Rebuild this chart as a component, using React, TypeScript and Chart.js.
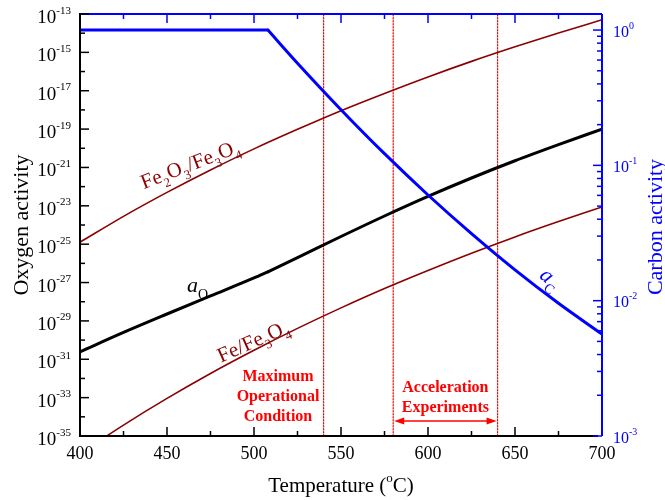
import React, { useEffect, useRef } from "react";
import { Chart, registerables } from "chart.js";

Chart.register(...registerables);

// ---- data ----
const temps = [400, 425, 450, 475, 500, 525, 550, 575, 600, 625, 650, 675, 700];
const fe2o3Fe3o4 = [1.26e-25, 2.82e-24, 5.01e-23, 7.41e-22, 9.33e-21, 9.77e-20, 9.12e-19, 7.24e-18, 5.25e-17, 3.39e-16, 1.95e-15, 1.02e-14, 5.01e-14];
const feFe3o4 = [1.2e-36, 3.72e-35, 9.12e-34, 1.82e-32, 2.95e-31, 4.07e-30, 4.79e-29, 4.9e-28, 4.27e-27, 3.39e-26, 2.4e-25, 1.51e-24, 8.71e-24];
// a_O has a kink at 508 °C: two branches
const aOTempsLow = [400, 425, 450, 475, 500, 508];
const aOValuesLow = [2.45e-31, 2.51e-30, 2.29e-29, 2.0e-28, 1.74e-27, 3.63e-27];
const aOTempsHigh = [508, 525, 550, 575, 600, 625, 650, 675, 700];
const aOValuesHigh = [3.63e-27, 2.0e-26, 2.51e-25, 2.95e-24, 3.09e-23, 2.82e-22, 2.24e-21, 1.55e-20, 1.0e-19];
// a_C: flat at 1 up to 508 °C, then falling
const aCTempsLow = [400, 450, 508];
const aCValuesLow = [1, 1, 1];
const aCTempsHigh = [508, 525, 550, 575, 600, 625, 650, 675, 700];
const aCValuesHigh = [1, 0.569, 0.258, 0.122, 0.0604, 0.0313, 0.0169, 0.00957, 0.00566];
const markerTemps = [540, 580, 640];
const accelRange = [580, 640];
const xTicks = [400, 450, 500, 550, 600, 650, 700];
const leftExponents = [-35, -33, -31, -29, -27, -25, -23, -21, -19, -17, -15, -13];
const rightExponents = [-3, -2, -1, 0];

const FONT = '"Liberation Serif", "Times New Roman", serif';
const WINE = "#8B0000";
const BLUE = "#0000FF";
const RED = "#FF0000";

type Part = { t: string; s?: "sub" | "sup"; i?: boolean };

function drawRich(
  ctx: CanvasRenderingContext2D,
  parts: Part[],
  x: number,
  y: number,
  size: number,
  color: string,
  opts: { angle?: number; align?: "left" | "center" | "right"; bold?: boolean; vcenter?: boolean; subScale?: number } = {}
) {
  const { angle = 0, align = "left", bold = false, vcenter = false, subScale = 0.62 } = opts;
  ctx.save();
  ctx.translate(x, y);
  ctx.rotate((angle * Math.PI) / 180);
  ctx.fillStyle = color;
  ctx.textBaseline = "alphabetic";
  ctx.textAlign = "left";
  const fontFor = (p: Part) =>
    `${p.i ? "italic " : ""}${bold ? "bold " : ""}${p.s ? Math.round(size * subScale) : size}px ${FONT}`;
  let w = 0;
  for (const p of parts) {
    ctx.font = fontFor(p);
    w += ctx.measureText(p.t).width;
  }
  let cx = align === "left" ? 0 : align === "center" ? -w / 2 : -w;
  const base = vcenter ? size * 0.33 : 0;
  for (const p of parts) {
    ctx.font = fontFor(p);
    const dy = p.s === "sub" ? size * 0.3 : p.s === "sup" ? -size * 0.5 : 0;
    ctx.fillText(p.t, cx, base + dy);
    cx += ctx.measureText(p.t).width;
  }
  ctx.restore();
}

const decorPlugin = {
  id: "decor",
  afterDatasetsDraw(chart: any) {
    const ctx: CanvasRenderingContext2D = chart.ctx;
    const { left, right, top, bottom } = chart.chartArea;
    const xs = chart.scales.x;
    const ys = chart.scales.y;
    const y2 = chart.scales.y2;
    ctx.save();

    // axis lines
    ctx.lineWidth = 2;
    ctx.strokeStyle = BLUE;
    ctx.beginPath();
    ctx.moveTo(left, top);
    ctx.lineTo(right, top);
    ctx.moveTo(right, top);
    ctx.lineTo(right, bottom);
    ctx.stroke();
    ctx.strokeStyle = "#000";
    ctx.beginPath();
    ctx.moveTo(left, top - 1);
    ctx.lineTo(left, bottom);
    ctx.lineTo(right - 4, bottom);
    ctx.stroke();

    // x ticks (bottom black, top blue)
    ctx.lineWidth = 1.5;
    for (let t = 400; t <= 700; t += 25) {
      const px = xs.getPixelForValue(t);
      const major = t % 50 === 0;
      const len = major ? 9 : 5;
      if (t === 400 || t === 700) continue;
      ctx.strokeStyle = "#000";
      ctx.beginPath();
      ctx.moveTo(px, bottom);
      ctx.lineTo(px, bottom - len);
      ctx.stroke();
      ctx.strokeStyle = BLUE;
      ctx.beginPath();
      ctx.moveTo(px, top);
      ctx.lineTo(px, top + len);
      ctx.stroke();
    }
    // left ticks
    ctx.strokeStyle = "#000";
    for (let e = -35; e <= -13; e++) {
      const py = ys.getPixelForValue(Math.pow(10, e));
      const len = leftExponents.includes(e) ? 9 : 5;
      ctx.beginPath();
      ctx.moveTo(left, py);
      ctx.lineTo(left + len, py);
      ctx.stroke();
    }
    // right ticks
    ctx.strokeStyle = BLUE;
    for (let e = -3; e <= 0; e++) {
      for (let k = 1; k <= 9; k++) {
        const v = k * Math.pow(10, e);
        if (v > y2.max) continue;
        const py = y2.getPixelForValue(v);
        const len = k === 1 ? 9 : 5;
        ctx.beginPath();
        ctx.moveTo(right, py);
        ctx.lineTo(right - len, py);
        ctx.stroke();
      }
    }

    // tick labels
    ctx.fillStyle = "#000";
    ctx.font = `18px ${FONT}`;
    ctx.textAlign = "center";
    ctx.textBaseline = "alphabetic";
    for (const t of xTicks) {
      ctx.fillText(String(t), xs.getPixelForValue(t), bottom + 23);
    }
    for (const e of leftExponents) {
      const py = ys.getPixelForValue(Math.pow(10, e));
      drawRich(ctx, [{ t: "10" }, { t: String(e), s: "sup" }], 71, py + 9, 19, "#000", { align: "right", subScale: 0.58 });
    }
    for (const e of rightExponents) {
      const py = y2.getPixelForValue(Math.pow(10, e));
      drawRich(ctx, [{ t: "10" }, { t: String(e), s: "sup" }], 613, py + 6.5, 16, BLUE, { align: "left", subScale: 0.6 });
    }

    // axis titles
    drawRich(ctx, [{ t: "Temperature (" }, { t: "o", s: "sup" }, { t: "C)" }], (left + right) / 2, 492, 21, "#000", { align: "center", subScale: 0.6 });
    drawRich(ctx, [{ t: "Oxygen activity" }], 28, (top + bottom) / 2, 22, "#000", { align: "center", angle: -90 });
    drawRich(ctx, [{ t: "Carbon activity" }], 662, (top + bottom) / 2 + 2, 22, BLUE, { align: "center", angle: -90 });

    // curve labels
    drawRich(ctx, [{ t: "Fe" }, { t: "2", s: "sub" }, { t: "O" }, { t: "3", s: "sub" }, { t: "/Fe" }, { t: "3", s: "sub" }, { t: "O" }, { t: "4", s: "sub" }], 190, 164, 21, WINE, { align: "center", angle: -21, vcenter: true });
    drawRich(ctx, [{ t: "Fe/Fe" }, { t: "3", s: "sub" }, { t: "O" }, { t: "4", s: "sub" }], 253, 341, 21, WINE, { align: "center", angle: -24, vcenter: true });
    drawRich(ctx, [{ t: "a", i: true }, { t: "O", s: "sub" }], 187, 292, 22, "#000", { align: "left" });
    drawRich(ctx, [{ t: "a", i: true }, { t: "C", s: "sub" }], 551, 278, 22, BLUE, { align: "center", angle: 40, vcenter: true });

    // annotations
    const midMax = 278;
    ctx.fillStyle = RED;
    ctx.font = `bold 16px ${FONT}`;
    ctx.textAlign = "center";
    ctx.fillText("Maximum", midMax, 381);
    ctx.fillText("Operational", midMax, 401);
    ctx.fillText("Condition", midMax, 421);
    const ax1 = xs.getPixelForValue(accelRange[0]);
    const ax2 = xs.getPixelForValue(accelRange[1]);
    const amid = (ax1 + ax2) / 2;
    ctx.fillText("Acceleration", amid, 392);
    ctx.fillText("Experiments", amid, 412);
    const ay = 421;
    ctx.strokeStyle = RED;
    ctx.lineWidth = 1.5;
    ctx.beginPath();
    ctx.moveTo(ax1 + 6, ay);
    ctx.lineTo(ax2 - 6, ay);
    ctx.stroke();
    ctx.beginPath();
    ctx.moveTo(ax1 + 1, ay);
    ctx.lineTo(ax1 + 11, ay - 3.5);
    ctx.lineTo(ax1 + 11, ay + 3.5);
    ctx.closePath();
    ctx.moveTo(ax2 - 1, ay);
    ctx.lineTo(ax2 - 11, ay - 3.5);
    ctx.lineTo(ax2 - 11, ay + 3.5);
    ctx.closePath();
    ctx.fill();

    ctx.restore();
  },
};

const pts = (xs: number[], ys: number[]) => xs.map((x, i) => ({ x, y: ys[i] }));

export default function App() {
  const ref = useRef<HTMLCanvasElement | null>(null);
  useEffect(() => {
    if (!ref.current) return;
    const markerSets = markerTemps.map((t) => ({
      data: [
        { x: t, y: 1e-35 },
        { x: t, y: 1e-13 },
      ],
      yAxisID: "y",
      borderColor: RED,
      borderWidth: 1.2,
      borderDash: [1.5, 1.5],
      tension: 0,
      order: 10,
    }));
    const smooth = { cubicInterpolationMode: "monotone" };
    const chart = new Chart(ref.current, {
      type: "line",
      data: {
        datasets: [
          { data: pts(temps, fe2o3Fe3o4), yAxisID: "y", borderColor: WINE, borderWidth: 1.6, order: 3, ...smooth },
          { data: pts(temps, feFe3o4), yAxisID: "y", borderColor: WINE, borderWidth: 1.6, order: 3, ...smooth },
          { data: pts(aOTempsLow, aOValuesLow), yAxisID: "y", borderColor: "#000", borderWidth: 3, order: 2, ...smooth },
          { data: pts(aOTempsHigh, aOValuesHigh), yAxisID: "y", borderColor: "#000", borderWidth: 3, order: 2, ...smooth },
          { data: pts(aCTempsLow, aCValuesLow), yAxisID: "y2", borderColor: BLUE, borderWidth: 3, order: 1, tension: 0 },
          { data: pts(aCTempsHigh, aCValuesHigh), yAxisID: "y2", borderColor: BLUE, borderWidth: 3, order: 1, ...smooth },
          ...markerSets,
        ] as any,
      },
      options: {
        animation: false,
        responsive: false,
        devicePixelRatio: 1,
        layout: { padding: { left: 80, right: 63, top: 14, bottom: 64 } },
        plugins: { legend: { display: false }, tooltip: { enabled: false } },
        elements: { point: { radius: 0 }, line: { borderCapStyle: "round", borderJoinStyle: "round" } },
        scales: {
          x: { type: "linear", min: 400, max: 700, display: false },
          y: { type: "logarithmic", min: 1e-35, max: 1e-13, display: false },
          y2: { type: "logarithmic", min: 1e-3, max: 1.314, display: false, position: "right" },
        },
      },
      plugins: [decorPlugin],
    });
    return () => chart.destroy();
  }, []);
  return (
    <div style={{ position: "absolute", left: 0, top: 0, width: 665, height: 500, background: "#fff" }}>
      <canvas ref={ref} width={665} height={500} style={{ display: "block" }} />
    </div>
  );
}
